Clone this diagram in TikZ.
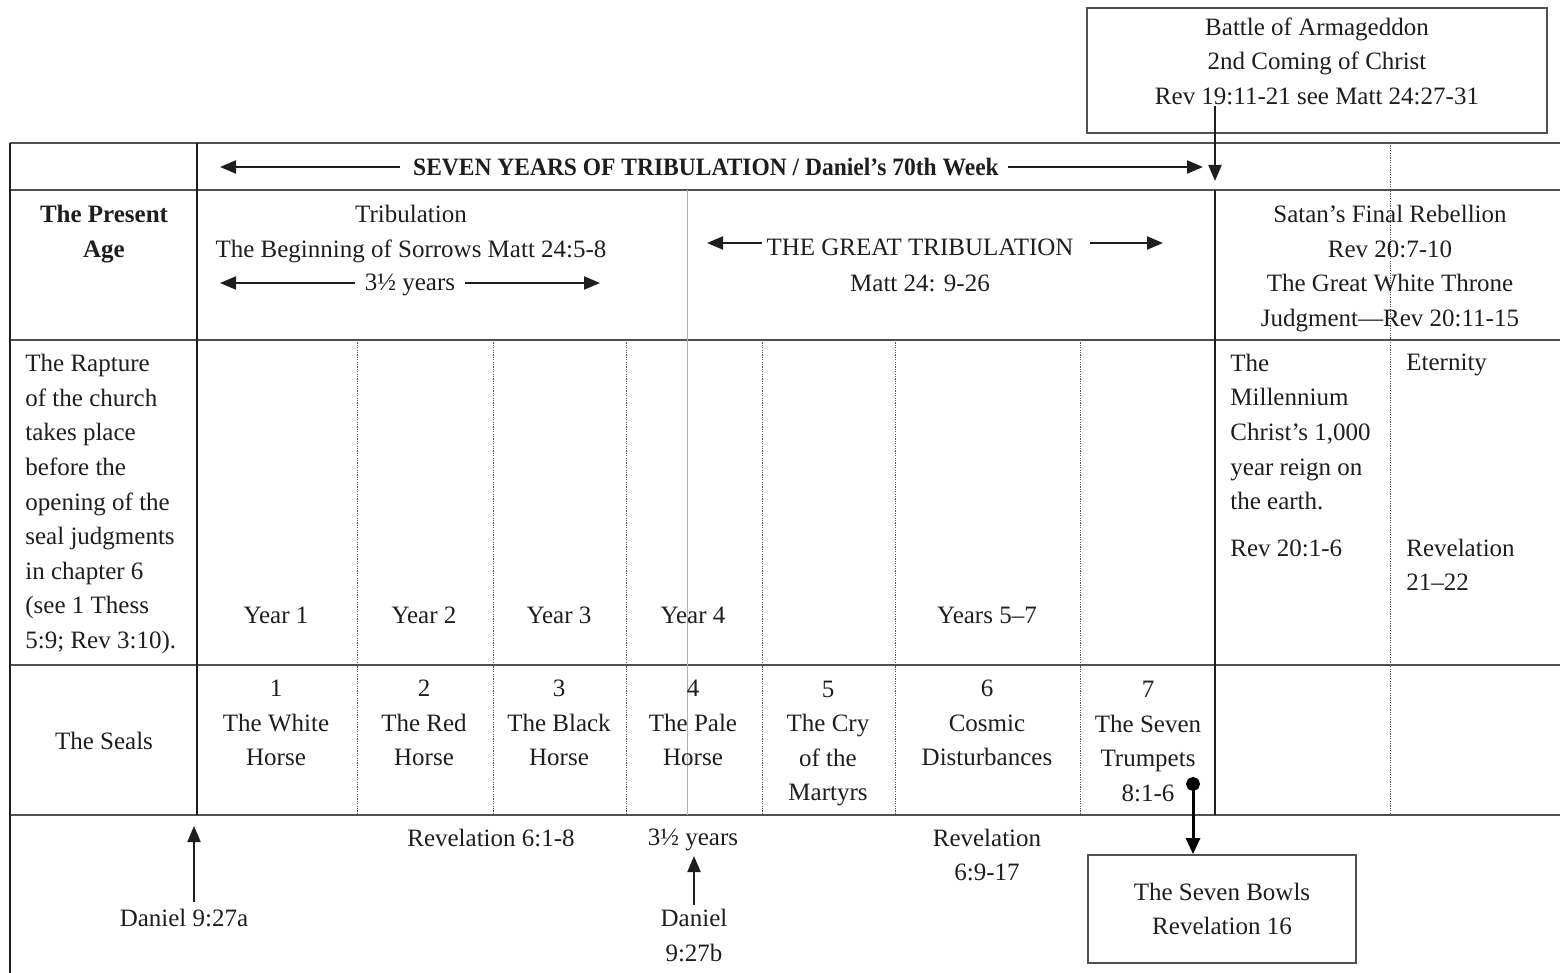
\documentclass[tikz,border=0pt]{standalone}
\usepackage{fontspec}
\setmainfont{Liberation Serif}
\newfontface\condbold{Liberation Serif Bold}[FakeStretch=0.94]
\usetikzlibrary{arrows.meta}
\definecolor{ink}{HTML}{1E1E1E}
\definecolor{rulec}{HTML}{505050}
\begin{document}
\begin{tikzpicture}[x=0.5pt,y=-0.5pt,
 tx/.style={font=\fontsize{12.5}{17.3}\selectfont, inner sep=0pt, text=ink, align=center},
 txl/.style={tx, align=left, anchor=west},
 txb/.style={tx, font=\fontsize{12.5}{17.3}\selectfont\bfseries},
 txc/.style={tx, font=\fontsize{12.5}{17.3}\condbold},
 hline/.style={draw=rulec, line width=1.3pt},
 vsolid/.style={draw=ink, line width=0.8pt},
 vdot/.style={draw=ink!75, line width=0.5pt, dash pattern=on 0.6pt off 0.6pt},
 vmid/.style={draw=black!30, line width=0.5pt},
 box/.style={draw=rulec, line width=0.9pt},
 arr/.style={draw=ink, line width=1pt, -{Triangle[length=8pt,width=6.5pt]}},
 dotarr/.style={draw=black, line width=1.5pt, {Circle[length=7pt]}-{Triangle[length=8pt,width=7pt]}},
]
\useasboundingbox (0,0) rectangle (1560,973);

% ---- table rules ----
\foreach \y in {143,190,340,665,815} \draw[hline] (10,\y) -- (1560,\y);
\draw[vsolid] (10,143) -- (10,973);
\draw[vsolid] (197,143) -- (197,815);
\draw[vsolid] (1215,190) -- (1215,815);
\draw[vdot] (1390,143) -- (1390,815);
\foreach \x in {357,493,626,762,895,1080} \draw[vdot] (\x,340) -- (\x,815);
\draw[vmid] (687,190) -- (687,815);

% ---- top box ----
\node[box, minimum width=230pt, minimum height=62.5pt] (armbox) at (1317,70.5) {};
\node[tx] (battle) at (1317,61) {Battle of Armageddon\\2nd Coming of Christ\\Rev 19:11-21 see Matt 24:27-31};
\coordinate (armstart) at (1215,106);
\coordinate (armend) at (1215,181);
\draw[arr] (armstart) -- (armend);

% ---- row 1 ----
\node[txc] (seven) at (706,167) {SEVEN YEARS OF TRIBULATION / Daniel’s 70th Week};
\coordinate (sevenLa) at (400,167); \coordinate (sevenLb) at (220,167);
\coordinate (sevenRa) at (1008,167); \coordinate (sevenRb) at (1203,167);
\draw[arr] (sevenLa) -- (sevenLb);
\draw[arr] (sevenRa) -- (sevenRb);

% ---- row 2 ----
\node[txb] (present) at (104,234) {The Present\\Age};
\node[tx] (trib) at (411,234) {Tribulation\\The Beginning of Sorrows Matt 24:5-8};
\node[tx] (half) at (410,285) {3½ years};
\coordinate (halfLa) at (355,283); \coordinate (halfLb) at (220,283);
\coordinate (halfRa) at (465,283); \coordinate (halfRb) at (600,283);
\draw[arr] (halfLa) -- (halfLb);
\draw[arr] (halfRa) -- (halfRb);
\node[tx] (great) at (920,247) {THE GREAT TRIBULATION};
\node[tx] (greatref) at (920,283) {Matt 24: 9-26};
\coordinate (grLa) at (762,243); \coordinate (grLb) at (707,243);
\coordinate (grRa) at (1090,243); \coordinate (grRb) at (1163,243);
\draw[arr] (grLa) -- (grLb);
\draw[arr] (grRa) -- (grRb);
\node[tx] (satan) at (1390,268.5) {Satan’s Final Rebellion\\Rev 20:7-10\\The Great White Throne\\Judgment—Rev 20:11-15};

% ---- row 3 ----
\node[txl] (rapture) at (25,504) {The Rapture\\of the church\\takes place\\before the\\opening of the\\seal judgments\\in chapter 6\\(see 1 Thess\\5:9; Rev 3:10).};
\node[tx] (y1) at (276,615) {Year 1};
\node[tx] (y2) at (424,615) {Year 2};
\node[tx] (y3) at (559,615) {Year 3};
\node[tx] (y4) at (693,615) {Year 4};
\node[tx] (y57) at (987,615) {Years 5–7};
\node[txl] (mill) at (1230,432) {The\\Millennium\\Christ’s 1,000\\year reign on\\the earth.};
\node[txl] (millref) at (1230,548) {Rev 20:1-6};
\node[txl] (eternity) at (1406,365) {Eternity};
\node[txl] (eternref) at (1406,565) {Revelation\\21–22};

% ---- row 4 ----
\node[tx] (seals) at (104,741) {The Seals};
\node[tx] (s1) at (276,723) {1\\The White\\Horse};
\node[tx] (s2) at (424,723) {2\\The Red\\Horse};
\node[tx] (s3) at (559,723) {3\\The Black\\Horse};
\node[tx] (s4) at (693,723) {4\\The Pale\\Horse};
\node[tx] (s5) at (828,743.5) {5\\The Cry\\of the\\Martyrs};
\node[tx] (s6) at (987,723) {6\\Cosmic\\Disturbances};
\node[tx] (s7) at (1148,741.5) {7\\The Seven\\Trumpets\\8:1-6};

% ---- bottom ----
\node[tx] (rev61) at (491,838) {Revelation 6:1-8};
\node[tx] (halfb) at (693,840) {3½ years};
\node[tx] (rev69) at (987,855) {Revelation\\6:9-17};
\node[tx] (dan1) at (184,918) {Daniel 9:27a};
\node[tx] (dan2) at (694,935.5) {Daniel\\9:27b};
\coordinate (d1a) at (194,902); \coordinate (d1b) at (194,826);
\draw[arr] (d1a) -- (d1b);
\coordinate (d2a) at (694,905); \coordinate (d2b) at (694,856);
\draw[arr] (d2a) -- (d2b);
\node[tx, box, minimum width=134pt, minimum height=54pt] (bowls) at (1222,909) {The Seven Bowls\\Revelation 16};
\coordinate (trumpdot) at (1193,777);
\draw[dotarr] (trumpdot) -- (bowls.north -| trumpdot);
\end{tikzpicture}
\end{document}
